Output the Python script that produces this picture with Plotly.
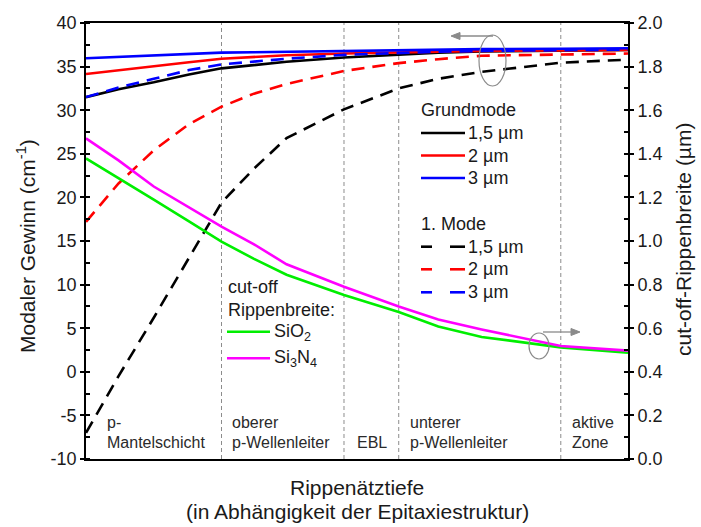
import plotly.graph_objects as go

# Etch depth along the epitaxial stack (normalised, 0 = top of p-cladding, 1 = active zone)
depth = [0, 0.06, 0.125, 0.19, 0.25, 0.31, 0.37, 0.476, 0.577, 0.65, 0.73, 0.876, 1.0]
layer_bounds = [0.25, 0.476, 0.577, 0.876]

# Modal gain (cm^-1), fundamental mode, per ridge width
gm_15 = [31.5, 32.4, 33.2, 34.1, 34.8, 35.2, 35.55, 36.05, 36.4, 36.6, 36.75, 36.85, 36.9]
gm_20 = [34.15, 34.6, 35.05, 35.5, 35.9, 36.1, 36.3, 36.5, 36.65, 36.75, 36.8, 36.85, 36.9]
gm_30 = [35.95, 36.1, 36.25, 36.45, 36.6, 36.65, 36.7, 36.8, 36.9, 36.95, 37.0, 37.05, 37.1]

# Modal gain (cm^-1), first-order mode, per ridge width
m1_15 = [-7.0, -0.5, 6.2, 13.1, 19.4, 23.3, 26.8, 30.1, 32.5, 33.6, 34.4, 35.45, 35.8]
m1_20 = [17.2, 21.6, 25.4, 28.4, 30.4, 31.9, 33.0, 34.5, 35.4, 35.85, 36.25, 36.4, 36.5]
m1_30 = [31.5, 32.6, 33.6, 34.6, 35.25, 35.6, 35.9, 36.35, 36.6, 36.7, 36.8, 36.9, 36.95]

# Cut-off ridge width (µm) for the two passivation layers
cut_sio2 = [1.379, 1.29, 1.19, 1.09, 0.997, 0.918, 0.845, 0.752, 0.674, 0.608, 0.56, 0.512, 0.488]
cut_si3n4 = [1.471, 1.37, 1.25, 1.155, 1.066, 0.985, 0.893, 0.79, 0.70, 0.64, 0.594, 0.518, 0.497]

gain_ticks = [-10, -5, 0, 5, 10, 15, 20, 25, 30, 35, 40]
gain_ticklabels = ["-10", "-5", "0", "5", "10", "15", "20", "25", "30", "35", "40"]

layer_names = [
    ["p-", "Mantelschicht"],
    ["oberer", "p-Wellenleiter"],
    ["EBL"],
    ["unterer", "p-Wellenleiter"],
    ["aktive", "Zone"],
]

FONT = "Arial, 'Liberation Sans', sans-serif"
W, H = 701, 527
L, R, T, B = 86, 628, 23, 459


def pxx(x):
    return (x - L) / (R - L)


def pxy(y):
    return (B - y) / (B - T)


fig = go.Figure()

DASH = "13px,8px"
LW = 2.6
series = [
    (m1_15, "#000000", DASH, "y"),
    (m1_20, "#ff0000", DASH, "y"),
    (gm_15, "#000000", "solid", "y"),
    (gm_20, "#ff0000", "solid", "y"),
    (m1_30, "#0000ff", DASH, "y"),
    (gm_30, "#0000ff", "solid", "y"),
    (cut_sio2, "#00ee00", "solid", "y2"),
    (cut_si3n4, "#ff00ff", "solid", "y2"),
]
for vals, col, dash, yax in series:
    fig.add_trace(go.Scatter(
        x=depth, y=vals, yaxis=yax, mode="lines",
        line=dict(color=col, width=LW, dash=dash),
        showlegend=False, hoverinfo="skip",
    ))

shapes = []
# layer boundaries
for xb in layer_bounds:
    shapes.append(dict(type="line", xref="x", yref="paper", x0=xb, x1=xb, y0=0, y1=1,
                       line=dict(color="#8c8c8c", width=1, dash="4px,3px"), layer="below"))

annotations = []


def text(x, y, s, size=18, anchor="left", color="#1a1a1a"):
    annotations.append(dict(x=pxx(x), y=pxy(y), xref="paper", yref="paper", text=s,
                            showarrow=False, xanchor=anchor, yanchor="middle",
                            font=dict(family=FONT, size=size, color=color)))


def seg(x0, x1, y, col, w=2.6):
    shapes.append(dict(type="line", xref="paper", yref="paper", x0=pxx(x0), x1=pxx(x1),
                       y0=pxy(y), y1=pxy(y), line=dict(color=col, width=w)))


def arrow(x_tail, x_tip, y, col="#8a8a8a"):
    direction = 1 if x_tip > x_tail else -1
    base = x_tip - direction * 9
    seg(x_tail, base, y, col, w=1.3)
    path = "M {} {} L {} {} L {} {} Z".format(pxx(x_tip), pxy(y), pxx(base), pxy(y - 3.5),
                                              pxx(base), pxy(y + 3.5))
    shapes.append(dict(type="path", xref="paper", yref="paper", path=path,
                       fillcolor=col, line=dict(color=col, width=1)))


# legend: modes
text(419, 110, "Grundmode")
legend_rows = [(133, "1,5 µm", "#000000"), (155.5, "2 µm", "#ff0000"), (178, "3 µm", "#0000ff")]
for y, lab, col in legend_rows:
    seg(421, 465, y, col)
    text(466, y, lab)
text(419, 224, "1. Mode")
legend_rows2 = [(246.7, "1,5 µm", "#000000"), (269.3, "2 µm", "#ff0000"), (292.3, "3 µm", "#0000ff")]
for y, lab, col in legend_rows2:
    seg(421, 432, y, col)
    seg(450, 465, y, col)
    text(466, y, lab)

# legend: cut-off width
text(226, 287, "cut-off")
text(226, 310, "Rippenbreite:")
seg(227, 270, 331.7, "#00ee00")
text(272, 332, "SiO<sub>2</sub>")
seg(227, 270, 358.3, "#ff00ff")
text(272, 358, "Si<sub>3</sub>N<sub>4</sub>")

# layer labels along the bottom
label_x = [105, 230, 355, 408, 570]
for lx, lines in zip(label_x, layer_names):
    if len(lines) == 2:
        text(lx, 422, lines[0], size=16, color="#2a2a2a")
        text(lx, 442, lines[1], size=16, color="#2a2a2a")
    else:
        text(lx, 442, lines[0], size=16, color="#2a2a2a")

# axis assignment markers (ellipse + arrow)
shapes.append(dict(type="circle", xref="paper", yref="paper",
                   x0=pxx(479), x1=pxx(506), y0=pxy(86), y1=pxy(35),
                   line=dict(color="#8a8a8a", width=1.2)))
arrow(493, 451, 36)
shapes.append(dict(type="circle", xref="paper", yref="paper",
                   x0=pxx(529), x1=pxx(549), y0=pxy(359), y1=pxy(333),
                   line=dict(color="#8a8a8a", width=1.2)))
arrow(543, 580, 332)

# axis titles
title_font = dict(family=FONT, size=21, color="#1a1a1a")
annotations.append(dict(x=pxx(26), y=pxy(246), xref="paper", yref="paper",
                        text="Modaler Gewinn (cm<sup>-1</sup>)", textangle=-90, showarrow=False,
                        xanchor="center", yanchor="middle", font=title_font))
annotations.append(dict(x=pxx(684), y=pxy(240), xref="paper", yref="paper",
                        text="cut-off-Rippenbreite (µm)", textangle=-90, showarrow=False,
                        xanchor="center", yanchor="middle", font=title_font))
annotations.append(dict(x=pxx(357), y=pxy(487), xref="paper", yref="paper",
                        text="Rippenätztiefe", showarrow=False, xanchor="center", yanchor="middle",
                        font=title_font))
annotations.append(dict(x=pxx(357), y=pxy(511), xref="paper", yref="paper",
                        text="(in Abhängigkeit der Epitaxiestruktur)", showarrow=False,
                        xanchor="center", yanchor="middle", font=title_font))

tickfont = dict(family=FONT, size=18, color="#1a1a1a")
fig.update_layout(
    width=W, height=H,
    margin=dict(l=L, r=W - R, t=T, b=H - B, pad=0),
    paper_bgcolor="white", plot_bgcolor="white",
    showlegend=False,
    shapes=shapes, annotations=annotations,
    xaxis=dict(range=[0, 1], showticklabels=False, ticks="", showgrid=False, zeroline=False,
               showline=True, linecolor="black", linewidth=1.8, mirror=True),
    yaxis=dict(range=[-10, 40], tickmode="array", tickvals=gain_ticks, ticktext=gain_ticklabels,
               ticks="outside", ticklen=4, tickwidth=1.5,
               tickcolor="black", tickfont=tickfont, showgrid=False, zeroline=False,
               showline=True, linecolor="black", linewidth=1.8,
               minor=dict(tickmode="linear", tick0=0, dtick=2.5, ticks="inside", ticklen=4,
                          tickwidth=1.5, tickcolor="black")),
    yaxis2=dict(range=[0, 2.0], dtick=0.2, tick0=0, tickformat=".1f", overlaying="y", side="right",
                ticks="outside", ticklen=4, tickwidth=1.5, tickcolor="black", tickfont=tickfont,
                showgrid=False, zeroline=False, showline=True, linecolor="black", linewidth=1.8,
                minor=dict(dtick=0.1, ticks="inside", ticklen=4, tickwidth=1.5, tickcolor="black")),
    yaxis3=dict(range=[-10, 40], dtick=5, tick0=0, overlaying="y", side="left", ticks="inside",
                ticklen=4, tickwidth=1.5, tickcolor="black", showticklabels=False,
                showgrid=False, zeroline=False, showline=False),
    yaxis4=dict(range=[0, 2.0], dtick=0.2, tick0=0, overlaying="y", side="right", ticks="inside",
                ticklen=4, tickwidth=1.5, tickcolor="black", showticklabels=False,
                showgrid=False, zeroline=False, showline=False),
)
# empty carriers so the tick-only axes are rendered
fig.add_trace(go.Scatter(x=[None], y=[None], yaxis="y3", showlegend=False, hoverinfo="skip"))
fig.add_trace(go.Scatter(x=[None], y=[None], yaxis="y4", showlegend=False, hoverinfo="skip"))

fig.write_html("out.html")
